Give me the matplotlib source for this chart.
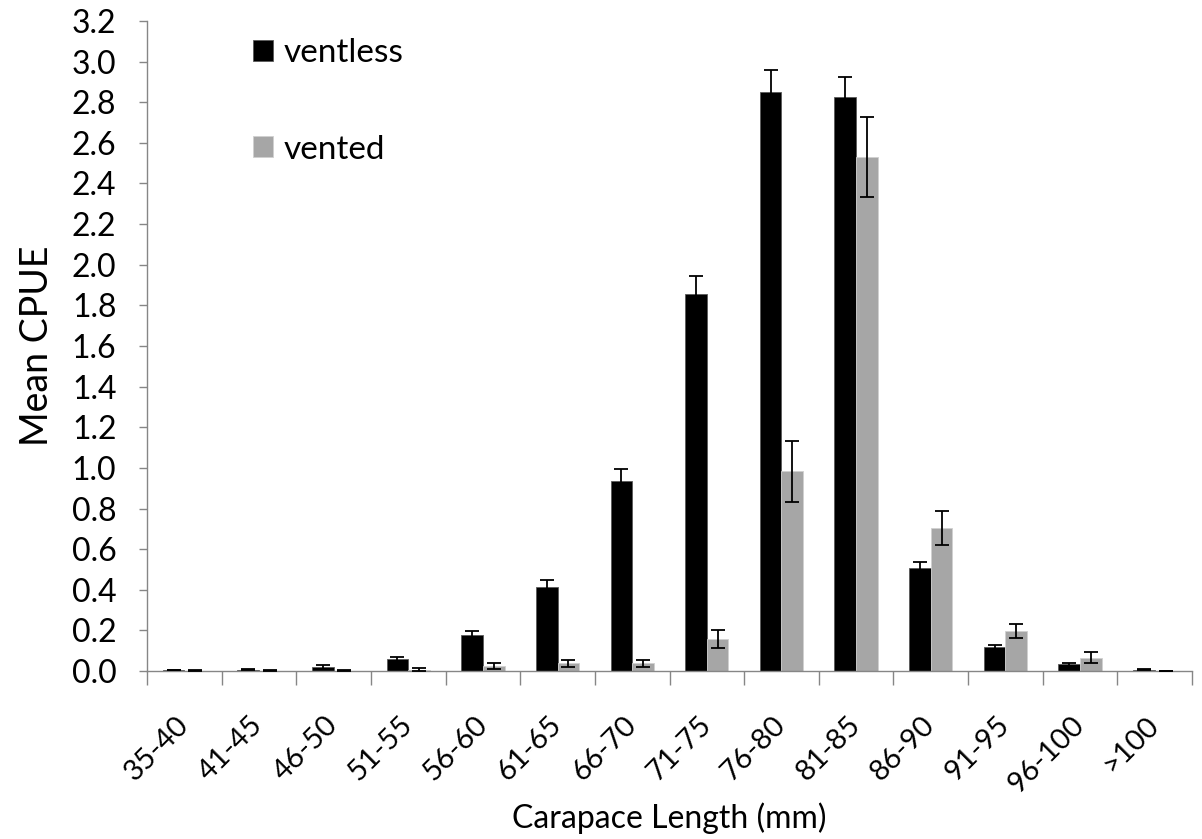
import matplotlib
matplotlib.use('Agg')
import matplotlib.pyplot as plt
import numpy as np

#---data-------------------------------------
categories = ['35-40', '41-45', '46-50', '51-55', '56-60', '61-65', '66-70',
              '71-75', '76-80', '81-85', '86-90', '91-95', '96-100', '>100']
ventless = [0.005, 0.007, 0.019, 0.058, 0.176, 0.414, 0.937,
            1.857, 2.851, 2.828, 0.506, 0.117, 0.034, 0.007]
ventless_err = [0.002, 0.003, 0.010, 0.013, 0.020, 0.035, 0.056,
                0.090, 0.110, 0.095, 0.030, 0.013, 0.007, 0.003]
vented = [0.002, 0.002, 0.002, 0.006, 0.025, 0.038, 0.038,
          0.156, 0.984, 2.530, 0.703, 0.197, 0.066, 0.0]
vented_err = [0.001, 0.001, 0.001, 0.008, 0.015, 0.018, 0.018,
              0.045, 0.150, 0.195, 0.085, 0.036, 0.027, 0.0]

plt.rcParams['font.family'] = ['Lato', 'DejaVu Sans']

fig = plt.figure(figsize=(12.02, 8.39), dpi=100)
ax = fig.add_axes([0.1223, 0.2002, 0.8694, 0.7748])

x = np.arange(len(categories))
w = 0.29
axis_grey = '#868686'

ax.bar(x - w/2, ventless, w, color='black', edgecolor='#595959', linewidth=0.6,
       label='ventless', zorder=2)
ax.bar(x + w/2, vented, w, color='#a6a6a6', edgecolor='#d0d0d0', linewidth=0.6,
       label='vented', zorder=2)
ax.errorbar(x - w/2, ventless, yerr=ventless_err, fmt='none', ecolor='black',
            elinewidth=1.3, capsize=5, capthick=1.3, zorder=3)
ax.errorbar(x + w/2, vented, yerr=vented_err, fmt='none', ecolor='black',
            elinewidth=1.3, capsize=5, capthick=1.3, zorder=3)

ax.set_xlim(-0.5, len(categories) - 0.5)
ax.set_ylim(0, 3.2)
ax.set_yticks(np.arange(0, 3.21, 0.2))
ax.set_yticklabels(['%.1f' % v for v in np.arange(0, 3.21, 0.2)], fontsize=23)

# labels at centres, tick marks at boundaries
ax.set_xticks(x)
ax.set_xticklabels(categories, fontsize=21, rotation=45, ha='right',
                   va='center', rotation_mode='anchor')
ax.tick_params(axis='x', which='major', length=0, pad=36)
ax.set_xticks(np.arange(-0.5, len(categories), 1), minor=True)
ax.tick_params(axis='x', which='minor', length=10, color=axis_grey, width=1)
ax.tick_params(axis='y', length=6, color=axis_grey, width=1, pad=16)

for s in ['top', 'right']:
    ax.spines[s].set_visible(False)
for s in ['left', 'bottom']:
    ax.spines[s].set_color(axis_grey)
    ax.spines[s].set_linewidth(1)

ax.set_ylabel('Mean CPUE', fontsize=27, labelpad=12)
ax.set_xlabel('Carapace Length (mm)', fontsize=23)
ax.xaxis.set_label_coords(0.5, -0.202)

leg = ax.legend(loc='upper left', bbox_to_anchor=(0.073, 1.02), frameon=False,
                fontsize=24, handlelength=0.6, handleheight=0.6,
                handletextpad=0.3, labelspacing=2.0)

fig.savefig('out.png', dpi=100)
